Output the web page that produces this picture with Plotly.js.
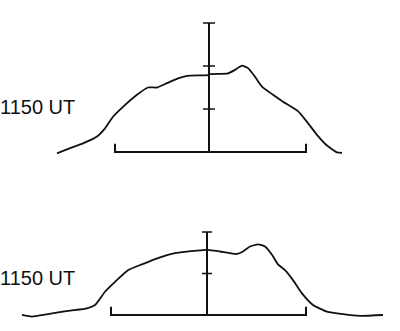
<!DOCTYPE html>
<html>
<head>
<meta charset="utf-8">
<script src="https://cdn.plot.ly/plotly-3.0.1.min.js"></script>
<style>html,body{margin:0;padding:0;background:#fff;}#chart{width:400px;height:331px;}</style>
</head>
<body>
<div id="chart"></div>
<script>
// Top profile (upper scan)
const topX = [-152, -139, -126, -112, -104, -96, -86, -72, -61, -52, -42, -31, -22, -1, 1, 19, 26, 33, 39, 46, 53, 64, 74, 89, 98, 108, 118, 128, 133];
const topY = [-0.03, 0.09, 0.20, 0.36, 0.55, 0.82, 1.05, 1.33, 1.50, 1.50, 1.60, 1.71, 1.77, 1.79, 1.81, 1.83, 1.91, 2.01, 1.95, 1.75, 1.52, 1.33, 1.17, 0.95, 0.70, 0.40, 0.15, -0.01, -0.02];
// Bottom profile (lower scan)
const botX = [-185, -175, -159, -139, -120, -112, -102, -92, -79, -65, -49, -32, -15, -2, 1, 13, 30, 36, 43, 51, 58, 65, 71, 78, 86, 95, 106, 120, 136, 153, 176];
const botY = [0.00, -0.04, 0.02, 0.10, 0.16, 0.24, 0.56, 0.80, 1.08, 1.22, 1.37, 1.49, 1.54, 1.57, 1.57, 1.53, 1.47, 1.53, 1.65, 1.70, 1.65, 1.45, 1.22, 1.08, 0.84, 0.52, 0.24, 0.08, 0.02, -0.02, 0.00];
// Scale decorations
const topTicks = [1, 2, 3];
const botTicks = [1, 2];
const topBracket = [-94, 97];
const botBracket = [-96, 99];
const labels = ["1150 UT", "1150 UT"];

function scaleTraces(ticks, bracket, tickHalf, capH, xa, ya) {
  const t = [];
  const ln = {color: '#111', width: 2};
  const top = ticks[ticks.length - 1];
  t.push({x: [0, 0], y: [0, top], mode: 'lines', line: ln, xaxis: xa, yaxis: ya, hoverinfo: 'skip'});
  const tx = [], ty = [];
  ticks.forEach(v => { tx.push(-tickHalf, tickHalf, null); ty.push(v, v, null); });
  t.push({x: tx, y: ty, mode: 'lines', line: {color: '#111', width: 1.6}, xaxis: xa, yaxis: ya, hoverinfo: 'skip'});
  t.push({x: [bracket[0], bracket[0], bracket[1], bracket[1]], y: [capH, 0, 0, capH], mode: 'lines', line: ln, xaxis: xa, yaxis: ya, hoverinfo: 'skip'});
  return t;
}

const data = [
  ...scaleTraces(topTicks, topBracket, 6, 0.19, 'x', 'y'),
  ...scaleTraces(botTicks, botBracket, 5, 0.2, 'x2', 'y2'),
  {x: topX, y: topY, mode: 'lines', line: {color: '#111', width: 1.8, shape: 'spline', smoothing: 0.5}, xaxis: 'x', yaxis: 'y', hoverinfo: 'skip'},
  {x: botX, y: botY, mode: 'lines', line: {color: '#111', width: 1.8, shape: 'spline', smoothing: 0.5}, xaxis: 'x2', yaxis: 'y2', hoverinfo: 'skip'}
];

const hid = {visible: false, showgrid: false, zeroline: false, fixedrange: true};
const layout = {
  width: 400, height: 331,
  margin: {l: 0, r: 0, t: 0, b: 0},
  paper_bgcolor: '#fff', plot_bgcolor: '#fff',
  showlegend: false,
  xaxis: Object.assign({}, hid, {domain: [0, 1], range: [-209, 191], anchor: 'y'}),
  yaxis: Object.assign({}, hid, {domain: [0.5, 1], range: [-0.314, 3.535], anchor: 'x'}),
  xaxis2: Object.assign({}, hid, {domain: [0, 1], range: [-207, 193], anchor: 'y2'}),
  yaxis2: Object.assign({}, hid, {domain: [0, 0.5], range: [-0.386, 3.602], anchor: 'x2'}),
  annotations: [
    {text: labels[0], xref: 'paper', yref: 'y', x: -0.004, y: 1.04, xanchor: 'left', yanchor: 'middle', showarrow: false,
     font: {family: 'Liberation Sans, Arial, sans-serif', size: 20, color: '#111'}},
    {text: labels[1], xref: 'paper', yref: 'y2', x: -0.006, y: 0.89, xanchor: 'left', yanchor: 'middle', showarrow: false,
     font: {family: 'Liberation Sans, Arial, sans-serif', size: 20, color: '#111'}}
  ]
};
Plotly.newPlot('chart', data, layout, {staticPlot: true, displayModeBar: false});
</script>
</body>
</html>
